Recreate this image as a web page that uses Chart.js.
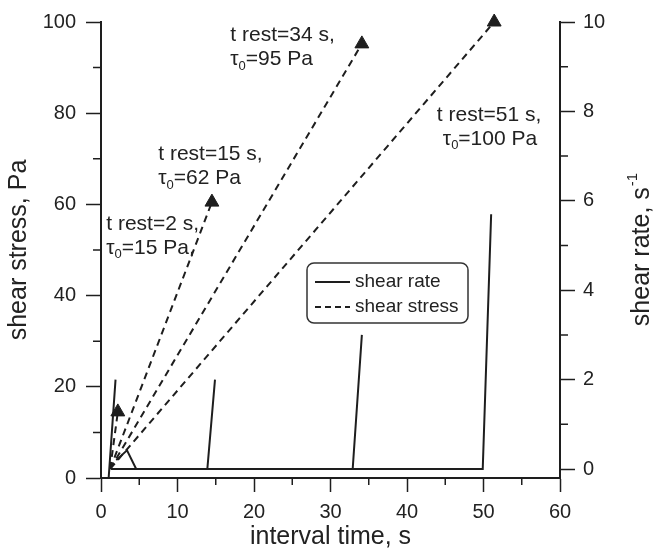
<!DOCTYPE html>
<html><head><meta charset="utf-8">
<script src="https://cdn.jsdelivr.net/npm/chart.js@4"></script>
<style>html,body{margin:0;padding:0;background:#fff}#wrap{position:relative;width:657px;height:553px}</style>
</head><body><div id="wrap"><canvas id="c"></canvas></div>
<script>
const FONT = "'Liberation Sans', Arial, sans-serif";
const INK = '#1e1e1e';

// tick values
const timeTicks = [0, 10, 20, 30, 40, 50, 60];
const timeMinor = [5, 15, 25, 35, 45, 55];
const stressTicks = [0, 20, 40, 60, 80, 100];
const stressMinor = [10, 30, 50, 70, 90];
const rateTicks = [0, 2, 4, 6, 8, 10];
const rateMinor = [1, 3, 5, 7, 9];

// shear rate (right axis), null = break in the line
const rateTime  = [1.0, 1.9, 1.9, 1.3, 13.9, 14.9, 14.9, 13.9, 32.9, 34.1, 34.1, 32.9, 49.9, 51.0, 51.0, 2.0, 3.4, 4.6];
const rateValue = [-0.2, 2.0, null, 0, 0, 2.0, null, 0, 0, 3.0, null, 0, 0, 5.7, null, 0.2, 0.42, 0];

// shear stress ramps (left axis)
const restTimes = [2, 15, 34, 51];
const tau0Values = [15, 62, 95, 100];
const stressStartTime = [1.2, 1.2, 1.2, 1.2];
const stressStartValue = [2, 2, 2, 2];
const stressPeakTime = [2.2, 14.5, 34.1, 51.4];
const stressPeakValue = [14.5, 60.5, 95.2, 100];

// annotation texts
const restLabels = ['t rest=2 s,', 't rest=15 s,', 't rest=34 s,', 't rest=51 s,'];
const tauLabels = ['=15 Pa,', '=62 Pa', '=95 Pa', '=100 Pa'];
// annotation anchors (data units: s, Pa) and second-line x shift (px)
const noteX = [0.69, 7.48, 16.9, 43.9];
const noteY = [55.7, 70.9, 97.0, 79.6];
const note2Shift = [0, 0, 0, 6];

const rateData = rateTime.map((t, i) => ({ x: t, y: rateValue[i] }));

const datasets = [{
  label: 'shear rate',
  yAxisID: 'y2',
  data: rateData,
  borderColor: INK,
  borderWidth: 2,
  pointRadius: 0,
  spanGaps: false,
  tension: 0
}];
restTimes.forEach((t, i) => {
  datasets.push({
    label: 'shear stress ' + t,
    yAxisID: 'y',
    data: [{ x: stressStartTime[i], y: stressStartValue[i] }, { x: stressPeakTime[i], y: stressPeakValue[i] }],
    borderColor: INK,
    borderWidth: 2,
    borderDash: [7, 5],
    pointStyle: 'triangle',
    pointRadius: [0, 8],
    pointBackgroundColor: INK,
    pointBorderColor: INK,
    pointBorderWidth: 1,
    clip: false
  });
});

function drawSub(ctx, x, y, main, sub, rest, size) {
  ctx.font = size + 'px ' + FONT;
  ctx.textBaseline = 'middle';
  ctx.textAlign = 'left';
  ctx.fillText(main, x, y);
  let w = ctx.measureText(main).width;
  ctx.font = Math.round(size * 0.6) + 'px ' + FONT;
  ctx.fillText(sub, x + w, y + size * 0.3);
  w += ctx.measureText(sub).width;
  ctx.font = size + 'px ' + FONT;
  ctx.fillText(rest, x + w, y);
}

const decor = {
  id: 'decor',
  afterDraw(chart) {
    const { ctx } = chart;
    const { x, y, y2 } = chart.scales;
    ctx.save();
    // minor ticks
    ctx.strokeStyle = INK;
    ctx.lineWidth = 1.5;
    ctx.beginPath();
    stressMinor.forEach(v => { const p = y.getPixelForValue(v); ctx.moveTo(y.right - 8, p); ctx.lineTo(y.right, p); });
    rateMinor.forEach(v => { const p = y2.getPixelForValue(v); ctx.moveTo(y2.left, p); ctx.lineTo(y2.left + 8, p); });
    timeMinor.forEach(v => { const p = x.getPixelForValue(v); ctx.moveTo(p, x.top); ctx.lineTo(p, x.top + 7); });
    ctx.stroke();

    // annotations
    ctx.fillStyle = '#222';
    restLabels.forEach((txt, i) => {
      const px = x.getPixelForValue(noteX[i]);
      const py = y.getPixelForValue(noteY[i]);
      ctx.font = '21px ' + FONT;
      ctx.textBaseline = 'middle';
      ctx.textAlign = 'left';
      ctx.fillText(txt, px, py);
      drawSub(ctx, px + note2Shift[i], py + 24, 'τ', '0', tauLabels[i], 21);
    });

    // legend box
    const bx = 307, by = 263, bw = 161, bh = 60, r = 7;
    ctx.beginPath();
    ctx.moveTo(bx + r, by);
    ctx.arcTo(bx + bw, by, bx + bw, by + bh, r);
    ctx.arcTo(bx + bw, by + bh, bx, by + bh, r);
    ctx.arcTo(bx, by + bh, bx, by, r);
    ctx.arcTo(bx, by, bx + bw, by, r);
    ctx.closePath();
    ctx.fillStyle = '#fff';
    ctx.fill();
    ctx.strokeStyle = '#333';
    ctx.lineWidth = 1.5;
    ctx.stroke();
    ctx.strokeStyle = INK;
    ctx.lineWidth = 1.8;
    ctx.beginPath(); ctx.moveTo(315, 282); ctx.lineTo(350, 282); ctx.stroke();
    ctx.setLineDash([6, 4]);
    ctx.beginPath(); ctx.moveTo(315, 307); ctx.lineTo(350, 307); ctx.stroke();
    ctx.setLineDash([]);
    ctx.fillStyle = '#222';
    ctx.font = '19px ' + FONT;
    ctx.textBaseline = 'middle';
    ctx.textAlign = 'left';
    ctx.fillText('shear rate', 355, 282);
    ctx.fillText('shear stress', 355, 307);

    // right axis title (reads bottom to top) with superscript
    const main = 'shear rate, s';
    const sup = '-1';
    ctx.font = '25px ' + FONT;
    const w1 = ctx.measureText(main).width;
    ctx.font = '15px ' + FONT;
    const w2 = ctx.measureText(sup).width;
    const cy = (y.top + y.bottom) / 2;
    ctx.translate(642, cy);
    ctx.rotate(-Math.PI / 2);
    const start = -(w1 + w2) / 2;
    ctx.fillStyle = '#222';
    ctx.font = '25px ' + FONT;
    ctx.fillText(main, start, 0);
    ctx.font = '15px ' + FONT;
    ctx.fillText(sup, start + w1 + 1, -9);
    ctx.restore();
  }
};

new Chart(document.getElementById('c'), {
  type: 'line',
  data: { datasets },
  plugins: [decor],
  options: {
    responsive: true,
    maintainAspectRatio: false,
    animation: false,
    events: [],
    layout: { padding: { top: 18, left: 0, right: 0, bottom: 0 } },
    plugins: { legend: { display: false }, tooltip: { enabled: false } },
    scales: {
      x: {
        type: 'linear', position: 'bottom', min: 0, max: 60,
        afterBuildTicks: s => { s.ticks = timeTicks.map(v => ({ value: v })); },
        afterFit: s => { s.height = 75; },
        grid: { drawOnChartArea: false, drawTicks: true, tickLength: 14, tickWidth: 1.5, tickColor: INK, color: INK },
        border: { display: true, color: INK, width: 2 },
        ticks: { font: { family: FONT, size: 20 }, color: '#222', padding: 8, maxRotation: 0, autoSkip: false },
        title: { display: true, text: 'interval time, s', font: { family: FONT, size: 25 }, color: '#222', padding: { top: 4, bottom: 1 } }
      },
      y: {
        type: 'linear', position: 'left', min: 0, max: 100,
        afterBuildTicks: s => { s.ticks = stressTicks.map(v => ({ value: v })); },
        afterFit: s => { s.width = 101; },
        grid: { drawOnChartArea: false, drawTicks: true, tickLength: 15, tickWidth: 1.5, tickColor: INK, color: INK },
        border: { display: true, color: INK, width: 2 },
        ticks: { font: { family: FONT, size: 20 }, color: '#222', padding: 10, autoSkip: false },
        title: { display: true, text: 'shear stress, Pa', font: { family: FONT, size: 25 }, color: '#222', padding: { top: 4, bottom: 4 } }
      },
      y2: {
        type: 'linear', position: 'right', min: -0.2, max: 10,
        afterBuildTicks: s => { s.ticks = rateTicks.map(v => ({ value: v })); },
        afterFit: s => { s.width = 97; },
        grid: { drawOnChartArea: false, drawTicks: true, tickLength: 15, tickWidth: 1.5, tickColor: INK, color: INK },
        border: { display: true, color: INK, width: 2 },
        ticks: { font: { family: FONT, size: 20 }, color: '#222', padding: 8, autoSkip: false }
      }
    }
  }
});
</script>
</body></html>
